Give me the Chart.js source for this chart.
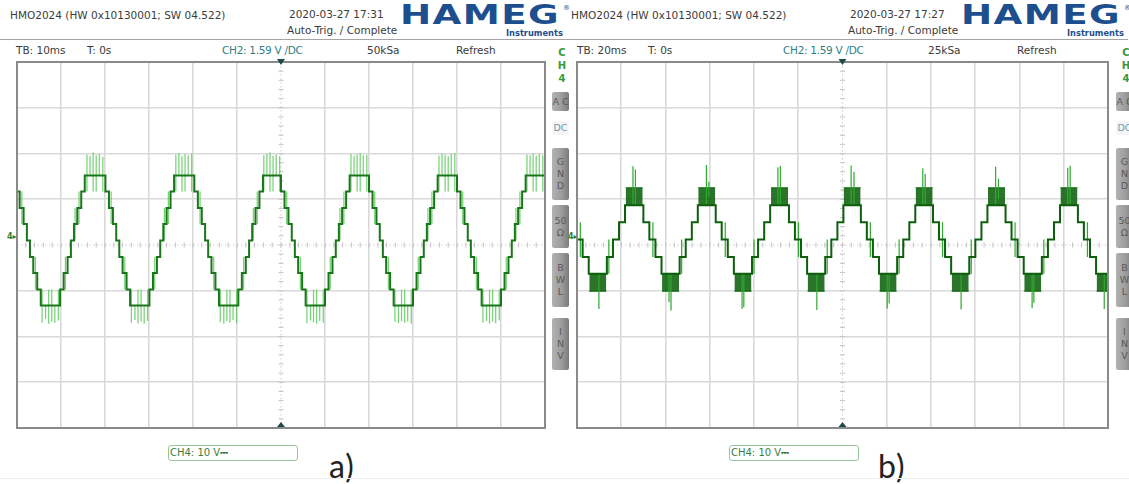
<!DOCTYPE html>
<html>
<head>
<meta charset="utf-8">
<title>HMO2024 CH4 captures</title>
<script src="https://cdn.jsdelivr.net/npm/chart.js@4.4.1/dist/chart.umd.min.js"></script>
<style>
  html, body { margin: 0; padding: 0; background: #fff; }
  #page { position: relative; width: 1129px; height: 484px; overflow: hidden; background: #fff;
          font-family: "DejaVu Sans", "Liberation Sans", sans-serif; }
  .txt { position: absolute; white-space: nowrap; font-size: 10.5px; line-height: 12px; color: #3b3b3b; }
  .teal { color: #2f7f86; letter-spacing: -0.3px; }
  .rule { position: absolute; height: 1px; background: #a4a4a4; }
  .logo { position: absolute; color: #1d4f8f; font-weight: bold; font-size: 27px; line-height: 27px;
          transform-origin: 0 0; letter-spacing: 1px; white-space: nowrap; }
  .logo-sub { position: absolute; color: #1d4f8f; font-weight: bold; font-size: 9px; line-height: 10px; white-space: nowrap;
              transform-origin: 0 0; transform: scaleX(0.92); }
  .reg { position: absolute; color: #1d4f8f; font-size: 7px; line-height: 7px; }
  .side { position: absolute; color: #3a9a3a; font-size: 10px; font-weight: bold; text-align: center; width: 12px; line-height: 13px; }
  .btn { position: absolute; width: 17px; border-radius: 2px;
         background: linear-gradient(90deg, #b2b2b2, #9d9d9d 55%, #7b7b7b);
         color: #5a5a5a; font-size: 9.5px; line-height: 12px; text-align: center;
         display: flex; flex-direction: column; justify-content: center; }
  .btn.off { background: #f3f5f6; color: #7596ad; }
  .chbox { position: absolute; height: 16px; border: 1.5px solid #9ac59a; border-radius: 3px; color: #3d7d3d;
           font-size: 10px; line-height: 13px; padding-left: 1px; box-sizing: border-box; white-space: nowrap; }
  .caption { position: absolute; font-family: Lato, "Open Sans", sans-serif; font-size: 32px; color: #222; line-height: 32px; letter-spacing: 1px; }
  .gnd { position: absolute; color: #2f7f2f; font-size: 8px; line-height: 8px; font-weight: bold; }
  canvas { position: absolute; }
</style>
</head>
<body>
<div id="page"></div>
<script>
// ---------------- capture a) : TB 10 ms/div, CH4 10 V/div ----------------
const xTicksA = [0, 10, 20, 30, 40, 50, 60, 70, 80, 90, 100, 110, 120];   // ms
const yTicks  = [-40, -30, -20, -10, 0, 10, 20, 30, 40];                   // V

// staircase level changes: [time ms, level V] (each level holds until the next change)
const stepsA = [
  [0, 11.7], [0.6, 8.1], [1.5, 4.6], [2.25, 1.0], [2.95, -2.6], [3.7, -6.1], [4.6, -9.7], [5.4, -13.2],
  [9.8, -9.7], [10.6, -6.1], [11.5, -2.6], [12.25, 1.0], [12.95, 4.6], [13.7, 8.1], [14.6, 11.7], [15.4, 15.2],
  [20.1, 11.7], [20.9, 8.1], [21.8, 4.6], [22.55, 1.0], [23.25, -2.6], [24.0, -6.1], [24.9, -9.7], [25.7, -13.2],
  [30.1, -9.7], [30.9, -6.1], [31.8, -2.6], [32.55, 1.0], [33.25, 4.6], [34.0, 8.1], [34.9, 11.7], [35.7, 15.2],
  [40.3, 11.7], [41.1, 8.1], [42.0, 4.6], [42.75, 1.0], [43.45, -2.6], [44.2, -6.1], [45.1, -9.7], [45.9, -13.2],
  [50.3, -9.7], [51.1, -6.1], [52.0, -2.6], [52.75, 1.0], [53.45, 4.6], [54.2, 8.1], [55.1, 11.7], [55.9, 15.2],
  [60.0, 11.7], [60.8, 8.1], [61.7, 4.6], [62.45, 1.0], [63.15, -2.6], [63.9, -6.1], [64.8, -9.7], [65.6, -13.2],
  [70.0, -9.7], [70.8, -6.1], [71.7, -2.6], [72.45, 1.0], [73.15, 4.6], [73.9, 8.1], [74.8, 11.7], [75.6, 15.2],
  [80.0, 11.7], [80.8, 8.1], [81.7, 4.6], [82.45, 1.0], [83.15, -2.6], [83.9, -6.1], [84.8, -9.7], [85.6, -13.2],
  [90.0, -9.7], [90.8, -6.1], [91.7, -2.6], [92.45, 1.0], [93.15, 4.6], [93.9, 8.1], [94.8, 11.7], [95.6, 15.2],
  [100.0, 11.7], [100.8, 8.1], [101.7, 4.6], [102.45, 1.0], [103.15, -2.6], [103.9, -6.1], [104.8, -9.7], [105.6, -13.2],
  [110.0, -9.7], [110.8, -6.1], [111.7, -2.6], [112.45, 1.0], [113.15, 4.6], [113.9, 8.1], [114.8, 11.7], [115.6, 15.2],
  [120, 15.2]
];

// switching pulses: [time ms, low V, high V]
const spikesA = [
  [1.1, 4.6, 11.7], [4.2, -9.7, -2.6],
  [5.7, -17.0, -9.7], [6.5, -16.2, -13.2], [7.2, -17.2, -9.7], [7.9, -16.8, -9.7], [8.6, -17.0, -13.2], [9.4, -16.5, -9.7],
  [11.0, -9.7, -2.6], [13.2, 1.0, 8.1], [14.1, 4.6, 11.7],
  [15.9, 11.7, 19.8], [16.6, 15.2, 19.5], [17.3, 11.7, 20.2], [18.0, 11.7, 19.6], [18.7, 15.2, 19.9], [19.5, 11.7, 19.3],
  [21.4, 4.6, 11.7], [24.5, -9.7, -2.6],
  [26.0, -17.0, -9.7], [26.8, -16.4, -13.2], [27.5, -17.1, -9.7], [28.2, -16.7, -9.7], [28.9, -17.2, -13.2], [29.7, -16.6, -9.7],
  [31.3, -9.7, -2.6], [33.5, 1.0, 8.1], [34.4, 4.6, 11.7],
  [36.1, 11.7, 19.7], [36.8, 15.2, 20.1], [37.5, 11.7, 19.4], [38.2, 11.7, 19.9], [38.9, 15.2, 19.6], [39.7, 11.7, 20.0],
  [41.6, 4.6, 11.7], [44.7, -9.7, -2.6],
  [46.2, -16.9, -9.7], [47.0, -17.2, -13.2], [47.7, -16.6, -9.7], [48.4, -17.0, -9.7], [49.1, -16.4, -13.2], [49.9, -17.1, -9.7],
  [51.5, -9.7, -2.6], [53.7, 1.0, 8.1], [54.6, 4.6, 11.7],
  [56.1, 11.7, 19.6], [56.8, 15.2, 19.9], [57.5, 11.7, 20.2], [58.2, 11.7, 19.5], [58.9, 15.2, 19.8], [59.7, 11.7, 19.4],
  [61.3, 4.6, 11.7], [64.4, -9.7, -2.6],
  [65.9, -17.1, -9.7], [66.7, -16.5, -13.2], [67.4, -16.9, -9.7], [68.1, -17.2, -9.7], [68.8, -16.6, -13.2], [69.6, -17.0, -9.7],
  [71.2, -9.7, -2.6], [73.4, 1.0, 8.1], [74.3, 4.6, 11.7],
  [75.9, 11.7, 19.9], [76.6, 15.2, 19.5], [77.3, 11.7, 19.8], [78.0, 11.7, 20.1], [78.7, 15.2, 19.6], [79.5, 11.7, 19.7],
  [81.3, 4.6, 11.7], [84.4, -9.7, -2.6],
  [85.9, -16.8, -9.7], [86.7, -17.1, -13.2], [87.4, -16.6, -9.7], [88.1, -17.0, -9.7], [88.8, -16.7, -13.2], [89.6, -17.2, -9.7],
  [91.2, -9.7, -2.6], [93.4, 1.0, 8.1], [94.3, 4.6, 11.7],
  [95.9, 11.7, 19.5], [96.6, 15.2, 20.0], [97.3, 11.7, 19.7], [98.0, 11.7, 19.4], [98.7, 15.2, 19.9], [99.5, 11.7, 20.1],
  [101.3, 4.6, 11.7], [104.4, -9.7, -2.6],
  [105.9, -17.0, -9.7], [106.7, -16.6, -13.2], [107.4, -17.2, -9.7], [108.1, -16.8, -9.7], [108.8, -17.1, -13.2], [109.6, -16.5, -9.7],
  [111.2, -9.7, -2.6], [113.4, 1.0, 8.1], [114.3, 4.6, 11.7],
  [115.9, 11.7, 19.8], [116.6, 15.2, 19.6], [117.3, 11.7, 20.0], [118.0, 11.7, 19.5], [118.7, 15.2, 19.9], [119.5, 11.7, 19.6]
];

// ---------------- capture b) : TB 20 ms/div, CH4 10 V/div ----------------
const xTicksB = [0, 20, 40, 60, 80, 100, 120, 140, 160, 180, 200, 220, 240]; // ms

const stepsB = [
  [0, 1.2], [2.55, -2.6], [5.3, -6.3],
  [13.5, -2.6], [16.25, 1.2], [19.0, 5.0], [21.7, 8.7],
  [30.0, 5.0], [32.7, 1.2], [35.45, -2.6], [38.2, -6.3],
  [46.4, -2.6], [49.15, 1.2], [51.9, 5.0], [54.6, 8.7],
  [62.7, 5.0], [65.4, 1.2], [68.15, -2.6], [70.9, -6.3],
  [79.1, -2.6], [81.85, 1.2], [84.6, 5.0], [87.3, 8.7],
  [95.8, 5.0], [98.5, 1.2], [101.25, -2.6], [104.0, -6.3],
  [112.2, -2.6], [114.95, 1.2], [117.7, 5.0], [120.4, 8.7],
  [128.3, 5.0], [131.0, 1.2], [133.75, -2.6], [136.5, -6.3],
  [144.7, -2.6], [147.45, 1.2], [150.2, 5.0], [152.9, 8.7],
  [160.9, 5.0], [163.6, 1.2], [166.35, -2.6], [169.1, -6.3],
  [177.3, -2.6], [180.05, 1.2], [182.8, 5.0], [185.5, 8.7],
  [193.7, 5.0], [196.4, 1.2], [199.15, -2.6], [201.9, -6.3],
  [210.1, -2.6], [212.85, 1.2], [215.6, 5.0], [218.3, 8.7],
  [226.4, 5.0], [229.1, 1.2], [231.85, -2.6], [234.6, -6.3],
  [240, -6.3]
];

// dense PWM bands at the extremes: [start ms, end ms, low V, high V]
const blocksB = [
  [5.55, 13.25, -10.1, -6.3], [22.0, 29.7, 8.7, 12.5],
  [38.45, 46.15, -10.1, -6.3], [54.8, 62.5, 8.7, 12.5],
  [71.15, 78.85, -10.1, -6.3], [87.7, 95.4, 8.7, 12.5],
  [104.25, 111.95, -10.1, -6.3], [120.5, 128.2, 8.7, 12.5],
  [136.75, 144.45, -10.1, -6.3], [153.05, 160.75, 8.7, 12.5],
  [169.35, 177.05, -10.1, -6.3], [185.75, 193.45, 8.7, 12.5],
  [202.15, 209.85, -10.1, -6.3], [218.5, 226.2, 8.7, 12.5],
  [234.85, 240, -10.1, -6.3]
];

const spikesB = [
  [1.5, -2.6, 5.0],
  [9.9, -14.0, -6.3], [14.4, -6.3, 1.2],
  [25.3, 8.7, 17.2], [26.4, 8.7, 16.5], [34.3, -2.6, 5.0],
  [41.6, -12.5, -6.3], [42.5, -14.3, -6.3], [47.3, -6.3, 1.2],
  [58.5, 8.7, 17.5], [59.6, 10.5, 13.8], [67.0, -2.6, 5.0],
  [74.6, -14.0, -6.3], [75.4, -13.6, -6.3], [80.0, -6.3, 1.2],
  [90.8, 8.7, 17.0], [91.9, 8.7, 17.3], [100.1, -2.6, 5.0],
  [108.4, -14.2, -6.3], [113.1, -6.3, 1.2],
  [123.9, 8.7, 17.4], [125.2, 8.7, 16.0], [132.6, -2.6, 5.0],
  [140.2, -13.9, -6.3], [141.1, -12.8, -6.3], [145.6, -6.3, 1.2],
  [156.3, 8.7, 16.8], [157.4, 8.7, 15.5], [165.2, -2.6, 5.0],
  [173.6, -14.1, -6.3], [178.2, -6.3, 1.2],
  [189.2, 8.7, 17.1], [190.5, 10.0, 14.5], [198.0, -2.6, 5.0],
  [205.7, -13.8, -6.3], [206.5, -12.6, -6.3], [211.0, -6.3, 1.2],
  [221.8, 8.7, 16.9], [222.9, 8.7, 17.3], [230.7, -2.6, 5.0],
  [238.3, -14.0, -6.3]
];

// ---------------- on-screen texts ----------------
const deviceLine = 'HMO2024 (HW 0x10130001; SW 04.522)';
const stampsA = ['2020-03-27 17:31', 'Auto-Trig. / Complete'];
const stampsB = ['2020-03-27 17:27', 'Auto-Trig. / Complete'];
const statusA = ['TB: 10ms', 'T: 0s', 'CH2: 1.59 V /DC', '50kSa', 'Refresh'];
const statusB = ['TB: 20ms', 'T: 0s', 'CH2: 1.59 V /DC', '25kSa', 'Refresh'];
const channelTag = 'CH4: 10 V\u2393';
const sideButtons = [['A C'], ['DC'], ['G', 'N', 'D'], ['50', '\u03A9'], ['B', 'W', 'L'], ['I', 'N', 'V']];
const captions = ['a)', 'b)'];

// ---------------- page furniture ----------------
const page = document.getElementById('page');
function el(cls, text, left, top, extra) {
  const d = document.createElement('div');
  d.className = cls;
  if (text !== null) d.textContent = text;
  d.style.left = left + 'px';
  d.style.top = top + 'px';
  if (extra) Object.assign(d.style, extra);
  page.appendChild(d);
  return d;
}

function panelFurniture(ox, stamps, status, sx, caption, capX) {
  el('txt', deviceLine, ox + 10, 9);
  el('txt', stamps[0], ox + 289, 8);
  el('txt', stamps[1], ox + 287, 24);
  const logo = el('logo', 'HAMEG', ox + 400, 1);
  logo.style.transform = 'scale(1.38, 1.0)';
  el('reg', '\u00AE', ox + 563, 5);
  el('logo-sub', 'Instruments', ox + 506, 28);
  el('rule', null, ox, 39, { width: '567px' });
  const statusX = [16, 87, 222, 367, 456];
  status.forEach((s, i) => {
    const d = el('txt', s, ox + statusX[i], 44);
    if (i === 2) d.classList.add('teal');
  });
  // vertical channel strip
  el('side', 'C', sx + 4, 46);
  el('side', 'H', sx + 4, 59);
  el('side', '4', sx + 4, 72);
  const btnTops = [92, 121, 148, 205, 253, 318];
  const btnHeights = [19, 14, 52, 43, 54, 52];
  sideButtons.forEach((letters, i) => {
    const b = el('btn' + (i === 1 ? ' off' : ''), null, sx, btnTops[i], { height: btnHeights[i] + 'px' });
    letters.forEach(l => { const s = document.createElement('div'); s.textContent = l; b.appendChild(s); });
  });
  el('gnd', '4\u25B8', ox + 7, 233);
  el('chbox', channelTag, ox + 168, 445, { width: '130px' });
  el('caption', caption, capX, 450);
}
panelFurniture(0, stampsA, statusA, 552, captions[0], 329);
panelFurniture(561, stampsB, statusB, 1116, captions[1], 878);
el('rule', null, 0, 478, { width: '1129px', background: '#efefef' });

// ---------------- scope screen drawing ----------------
const scopeScreen = {
  id: 'scopeScreen',
  beforeDatasetsDraw(chart, args, o) {
    const { ctx, chartArea: a, scales: { x, y } } = chart;
    const cx = x.getPixelForValue(o.centerX), cy = y.getPixelForValue(0);
    ctx.save();
    ctx.strokeStyle = '#cdcdcd';
    ctx.lineWidth = 1;
    ctx.setLineDash([1.5, 2.5]);
    ctx.beginPath();
    ctx.moveTo(cx, a.top); ctx.lineTo(cx, a.bottom);
    ctx.moveTo(a.left, cy); ctx.lineTo(a.right, cy);
    ctx.stroke();
    ctx.setLineDash([]);
    ctx.strokeStyle = '#c4c4c4';
    ctx.beginPath();
    for (let v = -40; v <= 40; v += 2) { const py = y.getPixelForValue(v); ctx.moveTo(cx - 2.5, py); ctx.lineTo(cx + 2.5, py); }
    const sub = o.centerX / 30;
    for (let t = 0; t <= o.centerX * 2; t += sub) { const px = x.getPixelForValue(t); ctx.moveTo(px, cy - 2.5); ctx.lineTo(px, cy + 2.5); }
    ctx.stroke();
    ctx.restore();
  },
  afterDraw(chart, args, o) {
    const { ctx, chartArea: a, scales: { x } } = chart;
    const cx = x.getPixelForValue(o.centerX);
    ctx.save();
    ctx.strokeStyle = '#8a8a8a';
    ctx.lineWidth = 2;
    ctx.strokeRect(a.left, a.top, a.right - a.left, a.bottom - a.top);
    ctx.fillStyle = '#1f4a4c';
    ctx.beginPath();
    ctx.moveTo(cx - 4, a.top - 3); ctx.lineTo(cx + 4, a.top - 3); ctx.lineTo(cx, a.top + 3); ctx.closePath();
    ctx.moveTo(cx - 4, a.bottom - 1); ctx.lineTo(cx + 4, a.bottom - 1); ctx.lineTo(cx, a.bottom - 6); ctx.closePath();
    ctx.fill();
    ctx.restore();
  }
};

function stairData(steps) { return steps.map(([t, v]) => ({ x: t, y: v })); }
function pulseData(spikes) {
  const pts = [];
  spikes.forEach(([t, lo, hi]) => pts.push({ x: t, y: lo }, { x: t, y: hi }, { x: t, y: null }));
  return pts;
}
function bandData(blocks, edge) {
  const pts = [];
  blocks.forEach(b => pts.push({ x: b[0], y: b[edge] }, { x: b[1], y: b[edge] }, { x: b[1], y: null }));
  return pts;
}

function scope(left, width, xTicks, datasets) {
  const c = document.createElement('canvas');
  c.width = width; c.height = 376;
  c.style.left = left + 'px'; c.style.top = '57px';
  c.style.width = width + 'px'; c.style.height = '376px';
  page.appendChild(c);
  const xMax = xTicks[xTicks.length - 1];
  const gridColor = center => ctx => (ctx.tick && ctx.tick.value === center ? 'rgba(0,0,0,0)' : '#d9d9d9');
  return new Chart(c, {
    type: 'line',
    data: { datasets },
    options: {
      responsive: false, animation: false, devicePixelRatio: 1,
      layout: { padding: 5 },
      elements: { point: { radius: 0 }, line: { tension: 0 } },
      plugins: { legend: { display: false }, tooltip: { enabled: false }, scopeScreen: { centerX: xMax / 2 } },
      scales: {
        x: {
          type: 'linear', min: 0, max: xMax,
          afterBuildTicks: s => { s.ticks = xTicks.map(v => ({ value: v })); },
          ticks: { display: false },
          grid: { color: gridColor(xMax / 2), lineWidth: 1.6, drawTicks: false },
          border: { display: false }
        },
        y: {
          type: 'linear', min: yTicks[0], max: yTicks[yTicks.length - 1],
          afterBuildTicks: s => { s.ticks = yTicks.map(v => ({ value: v })); },
          ticks: { display: false },
          grid: { color: gridColor(0), lineWidth: 1.6, drawTicks: false },
          border: { display: false }
        }
      }
    },
    plugins: [scopeScreen]
  });
}

// a) light switching pulses behind a darker staircase
scope(12, 538, xTicksA, [
  { data: stairData(stepsA), stepped: 'before', borderColor: '#1b761b', borderWidth: 2, order: 0 },
  { data: pulseData(spikesA), borderColor: 'rgba(90,200,90,0.85)', borderWidth: 1.2, spanGaps: false, order: 1 }
]);

// b) dark staircase with filled PWM bands at crests and troughs
const crestBands = blocksB.filter(b => b[3] > 0);
const troughBands = blocksB.filter(b => b[3] < 0);
scope(572, 541, xTicksB, [
  { data: stairData(stepsB), stepped: 'before', borderColor: '#0d5e0d', borderWidth: 2, order: 0 },
  { data: pulseData(spikesB), borderColor: '#2faa2f', borderWidth: 1.2, spanGaps: false, order: 1 },
  { data: bandData(crestBands, 3), borderColor: '#0f650f', backgroundColor: 'rgba(12,98,12,0.88)', borderWidth: 1,
    spanGaps: false, fill: { value: crestBands[0][2] }, order: 2 },
  { data: bandData(troughBands, 2), borderColor: '#0f650f', backgroundColor: 'rgba(12,98,12,0.88)', borderWidth: 1,
    spanGaps: false, fill: { value: troughBands[0][3] }, order: 2 }
]);
</script>
</body>
</html>
